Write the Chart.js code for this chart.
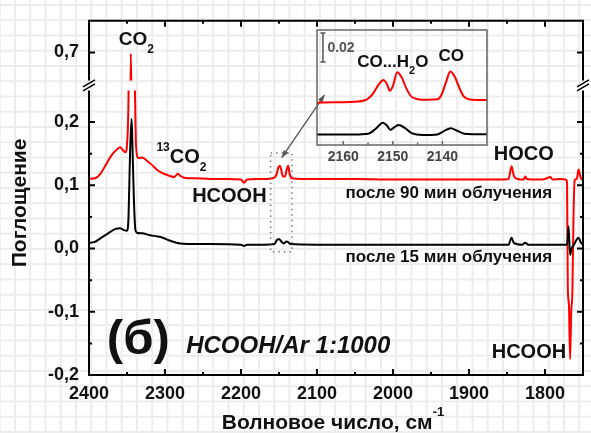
<!DOCTYPE html>
<html>
<head>
<meta charset="utf-8">
<script src="https://cdn.jsdelivr.net/npm/chart.js@4.4.0/dist/chart.umd.min.js"></script>
<style>
  html, body { margin: 0; padding: 0; }
  body {
    width: 591px; height: 433px; overflow: hidden; position: relative;
    background-color: #fff;
    background-image:
      linear-gradient(#ececec 2px, transparent 2px),
      linear-gradient(90deg, #ececec 2px, transparent 2px);
    background-size: 15.25px 15.25px;
    background-position: 14px 4px;
  }
  #main { position: absolute; left: 0; top: 0; }
  #inset { position: absolute; left: 310px; top: 25px; }
</style>
</head>
<body>
<canvas id="main" width="591" height="433"></canvas>
<canvas id="inset" width="185" height="145"></canvas>
<script>
// spectrum after 90 min irradiation (red)
const redWn = [2400, 2392, 2385, 2378, 2370, 2363, 2359, 2355, 2352, 2350, 2348, 2346, 2345, 2344, 2342, 2340, 2338, 2335, 2330, 2325,
  2318, 2311, 2303, 2294, 2288, 2283, 2280, 2275, 2260, 2240, 2220, 2200, 2196, 2192, 2180, 2165, 2156, 2153, 2151, 2149,
  2147, 2145, 2142, 2140, 2138, 2136, 2133, 2120, 2100, 2050, 2000, 1950, 1900, 1860, 1848, 1844, 1841, 1836, 1828, 1826,
  1824, 1810, 1800, 1793, 1790, 1780, 1773, 1771, 1770, 1768.5, 1767, 1765.5, 1764, 1762.5, 1761, 1758, 1756, 1753, 1750];
const redAbs = [0.110, 0.111, 0.118, 0.132, 0.148, 0.157, 0.160, 0.155, 0.152, 0.165, 0.24, 0.55, 0.698, 0.62, 0.40, 0.28, 0.16, 0.143, 0.144, 0.140,
  0.133, 0.125, 0.119, 0.115, 0.113, 0.118, 0.115, 0.112, 0.111, 0.110, 0.110, 0.109, 0.104, 0.109, 0.110, 0.110, 0.112, 0.118, 0.128, 0.131,
  0.124, 0.114, 0.114, 0.124, 0.131, 0.118, 0.111, 0.110, 0.110, 0.110, 0.109, 0.109, 0.109, 0.109, 0.110, 0.130, 0.115, 0.110, 0.109, 0.114,
  0.110, 0.109, 0.110, 0.113, 0.109, 0.110, 0.109, 0.105, -0.06, -0.09, -0.175, -0.10, -0.07, 0.05, 0.108, 0.110, 0.125, 0.112, 0.108];

// spectrum after 15 min irradiation (black)
const blackWn = [2400, 2393, 2385, 2375, 2365, 2359, 2354, 2350, 2348, 2346, 2344, 2343, 2341, 2339, 2337, 2330, 2320, 2310, 2303, 2295,
  2285, 2280, 2260, 2240, 2200, 2196, 2192, 2170, 2156, 2153, 2150, 2147, 2144, 2140, 2138, 2135, 2100, 2050, 2000, 1900,
  1848, 1844, 1841, 1830, 1826, 1822, 1800, 1780, 1771, 1769, 1767, 1765, 1762, 1756, 1753, 1750];
const blackAbs = [0.009, 0.010, 0.016, 0.024, 0.031, 0.032, 0.029, 0.028, 0.05, 0.15, 0.205, 0.17, 0.08, 0.03, 0.025, 0.024, 0.021, 0.019, 0.017, 0.013,
  0.009, 0.008, 0.007, 0.007, 0.006, 0.004, 0.006, 0.006, 0.007, 0.013, 0.015, 0.011, 0.008, 0.011, 0.010, 0.007, 0.006, 0.006, 0.006, 0.006,
  0.006, 0.017, 0.009, 0.006, 0.009, 0.006, 0.006, 0.006, 0.006, 0.035, -0.01, 0.000, 0.006, 0.017, 0.010, 0.006];

// inset: CO region, magnified
const insetRedWn = [2165.3, 2162, 2158, 2155.5, 2154, 2152.8, 2151.9, 2151.2, 2150.6, 2150, 2149.1, 2148.2, 2147.2, 2146.3, 2145,
  2143, 2141, 2140.2, 2139.3, 2138.4, 2137.5, 2136.6, 2135.7, 2134, 2131];
const insetRedAbs = [0.0292, 0.0294, 0.0298, 0.031, 0.0355, 0.042, 0.0448, 0.042, 0.0374, 0.0405, 0.0501, 0.0465, 0.0385, 0.0335, 0.0316,
  0.0312, 0.0315, 0.0345, 0.043, 0.0506, 0.047, 0.0395, 0.0335, 0.0312, 0.031];
const insetBlackWn = [2165.3, 2158, 2155, 2153.5, 2152, 2151.2, 2150.5, 2149.6, 2148.8, 2147.6, 2146.2, 2144, 2141, 2139.6, 2138.3, 2137, 2135.6, 2131];
const insetBlackAbs = [0.0072, 0.0073, 0.0078, 0.011, 0.0154, 0.0135, 0.0105, 0.0125, 0.0138, 0.0118, 0.0082, 0.0069, 0.0073, 0.0098, 0.0115, 0.0098, 0.0078, 0.0074];

// tick labels
const xTickValues = [2400, 2300, 2200, 2100, 2000, 1900, 1800];
const yTickValues = [0.7, 0.2, 0.1, 0.0, -0.1, -0.2];
const yTickLabels = ['0,7', '0,2', '0,1', '0,0', '-0,1', '-0,2'];
const insetTickValues = [2160, 2150, 2140];

Chart.defaults.font.family = '"Liberation Sans", Arial, sans-serif';

const pts = (xs, ys) => xs.map((x, i) => ({ x, y: ys[i] }));
const near = (a, b) => Math.abs(a - b) < 1e-6;
const onStep = (v, s) => near(Math.round(v / s) * s, v);

function yLabel(v) {
  const i = yTickValues.findIndex(t => near(t, v));
  return i < 0 ? '' : yTickLabels[i];
}

function line(data, color, axis) {
  return {
    data, yAxisID: axis, borderColor: color, borderWidth: 2,
    pointRadius: 0, fill: false, cubicInterpolationMode: 'monotone'
  };
}

// draws text made of parts: [text, 0 normal | 1 subscript | -1 superscript]
function chem(ctx, parts, x, y, size, style) {
  let cx = x;
  for (const [t, k] of parts) {
    const s = k ? Math.round(size * 0.62) : size;
    ctx.font = (style || 'bold') + ' ' + s + 'px "Liberation Sans", Arial, sans-serif';
    ctx.fillText(t, cx, y + (k === 1 ? size * 0.4 : k === -1 ? -size * 0.6 : 0));
    cx += ctx.measureText(t).width;
  }
  return cx - x;
}

function chemWidth(ctx, parts, size, style) {
  let w = 0;
  for (const [t, k] of parts) {
    const s = k ? Math.round(size * 0.62) : size;
    ctx.font = (style || 'bold') + ' ' + s + 'px "Liberation Sans", Arial, sans-serif';
    w += ctx.measureText(t).width;
  }
  return w;
}

// labels placed in data units (wavenumber, absorbance)
const notes = [
  { parts: [['CO', 0], ['2', 1]], wn: 2360.8, v: 0.7116, axis: 'yTop', size: 19 },
  { parts: [['13', -1], ['CO', 0], ['2', 1]], wn: 2311.3, v: 0.1345, axis: 'y', size: 20 },
  { parts: [['HCOOH', 0]], wn: 2264.3, v: 0.0731, axis: 'y', size: 20 },
  { parts: [['после 90 мин облучения', 0]], wn: 1790.5, v: 0.0792, axis: 'y', size: 17, align: 'right' },
  { parts: [['после 15 мин облучения', 0]], wn: 1790.5, v: -0.021, axis: 'y', size: 17, align: 'right' },
  { parts: [['HOCO', 0]], wn: 1867.5, v: 0.1406, axis: 'y', size: 20 },
  { parts: [['HCOOH', 0]], wn: 1870.1, v: -0.1739, axis: 'y', size: 20 },
  { parts: [['(б)', 0]], wn: 2376.5, v: -0.1662, axis: 'y', size: 49 },
  { parts: [['HCOOH/Ar 1:1000', 0]], wn: 2272.1, v: -0.1647, axis: 'y', size: 24, style: 'italic bold' }
];

const breakClip = {
  id: 'breakClip',
  beforeDatasetDraw(chart, args) {
    const a = chart.chartArea, ctx = chart.ctx;
    const low = chart.scales.y;
    let top, bottom;
    if (args.meta.yAxisID === 'yTop') { top = a.top - 5; bottom = low.top - 10; }
    else { top = low.top - 2.5; bottom = a.bottom + 5; }
    ctx.save();
    ctx.beginPath();
    ctx.rect(a.left - 2, top, a.width + 4, bottom - top);
    ctx.clip();
  },
  afterDatasetDraw(chart) { chart.ctx.restore(); }
};

const decor = {
  id: 'decor',
  afterDatasetsDraw(chart) {
    const ctx = chart.ctx, a = chart.chartArea;
    const xs = chart.scales.x, yl = chart.scales.y, yt = chart.scales.yTop;
    const brk = yl.top;
    ctx.save();
    ctx.strokeStyle = '#000';
    ctx.fillStyle = '#000';
    ctx.lineWidth = 2;
    ctx.lineCap = 'butt';
    // frame with the axis break
    ctx.beginPath();
    ctx.moveTo(a.left, brk - 10); ctx.lineTo(a.left, a.top); ctx.lineTo(a.right, a.top); ctx.lineTo(a.right, brk - 10);
    ctx.moveTo(a.left, brk); ctx.lineTo(a.left, a.bottom); ctx.lineTo(a.right, a.bottom); ctx.lineTo(a.right, brk);
    ctx.stroke();
    ctx.lineWidth = 1.5;
    ctx.beginPath();
    for (const x0 of [a.left, a.right]) {
      for (const dy of [-7, -3]) {
        ctx.moveTo(x0 - 6, brk + dy + 3.5);
        ctx.lineTo(x0 + 6, brk + dy - 3.5);
      }
    }
    ctx.stroke();
    // inward ticks
    ctx.lineWidth = 2;
    ctx.beginPath();
    for (const t of xs.ticks) {
      if (!onStep(t.value, 50)) continue;
      const len = onStep(t.value, 100) ? 6 : 3;
      const px = xs.getPixelForValue(t.value);
      ctx.moveTo(px, a.bottom); ctx.lineTo(px, a.bottom - len);
      ctx.moveTo(px, a.top); ctx.lineTo(px, a.top + len);
    }
    for (const sc of [yl, yt]) {
      for (const t of sc.ticks) {
        if (!onStep(t.value, 0.05)) continue;
        const py = sc.getPixelForValue(t.value);
        if (py < sc.top + 4 || py > sc.bottom + 1 || (sc === yt && py > brk - 12)) continue;
        const len = onStep(t.value, 0.1) ? 6 : 3;
        ctx.moveTo(a.left, py); ctx.lineTo(a.left + len, py);
        ctx.moveTo(a.right, py); ctx.lineTo(a.right - len, py);
      }
    }
    ctx.stroke();

    // dotted box around the CO region and the arrow to the inset
    const bx0 = xs.getPixelForValue(2161), bx1 = xs.getPixelForValue(2133);
    const by0 = yl.getPixelForValue(0.151), by1 = yl.getPixelForValue(-0.005);
    ctx.strokeStyle = '#777';
    ctx.lineWidth = 1.5;
    ctx.setLineDash([1.5, 4]);
    ctx.strokeRect(bx0, by0, bx1 - bx0, by1 - by0);
    ctx.setLineDash([]);
    const ax0 = xs.getPixelForValue(2146.4), ay0 = yl.getPixelForValue(0.1435);
    const ax1 = xs.getPixelForValue(2090), ay1 = yl.getPixelForValue(0.243);
    ctx.strokeStyle = '#555'; ctx.fillStyle = '#555'; ctx.lineWidth = 1.3;
    ctx.beginPath(); ctx.moveTo(ax0, ay0); ctx.lineTo(ax1, ay1); ctx.stroke();
    const ang = Math.atan2(ay1 - ay0, ax1 - ax0);
    for (const [hx, hy, dir] of [[ax0, ay0, ang + Math.PI], [ax1, ay1, ang]]) {
      ctx.beginPath();
      ctx.moveTo(hx, hy);
      ctx.lineTo(hx - 8 * Math.cos(dir - 0.35), hy - 8 * Math.sin(dir - 0.35));
      ctx.lineTo(hx - 8 * Math.cos(dir + 0.35), hy - 8 * Math.sin(dir + 0.35));
      ctx.closePath(); ctx.fill();
    }

    // annotations
    ctx.fillStyle = '#111';
    ctx.textBaseline = 'alphabetic';
    ctx.textAlign = 'left';
    for (const n of notes) {
      let px = xs.getPixelForValue(n.wn);
      const py = chart.scales[n.axis].getPixelForValue(n.v);
      if (n.align === 'right') px -= chemWidth(ctx, n.parts, n.size, n.style);
      chem(ctx, n.parts, px, py, n.size, n.style);
    }

    // axis titles
    ctx.font = 'bold 21px "Liberation Sans", Arial, sans-serif';
    ctx.save();
    ctx.translate(26, (a.top + a.bottom) / 2 + 5);
    ctx.rotate(-Math.PI / 2);
    ctx.textAlign = 'center';
    ctx.fillText('Поглощение', 0, 0);
    ctx.restore();
    const titleParts = [['Волновое число, см', 0], ['-1', -1]];
    const tw = chemWidth(ctx, titleParts, 21);
    chem(ctx, titleParts, 333 - tw / 2, 429, 21);
    ctx.restore();
  }
};

const tickFont = { size: 18, weight: 'bold' };

new Chart(document.getElementById('main'), {
  type: 'line',
  data: {
    datasets: [
      line(pts(blackWn, blackAbs), '#000000', 'y'),
      line(pts(redWn, redAbs), '#ff0000', 'y'),
      line(pts(redWn, redAbs), '#ff0000', 'yTop')
    ]
  },
  options: {
    responsive: false,
    animation: false,
    events: [],
    layout: { padding: { top: 10, right: 4, left: 0, bottom: 0 } },
    plugins: { legend: { display: false }, tooltip: { enabled: false } },
    scales: {
      x: {
        type: 'linear', reverse: true, min: 1750, max: 2400,
        grid: { display: false, drawTicks: false }, border: { display: false },
        ticks: {
          stepSize: 50, autoSkip: false, maxRotation: 0, padding: 8, color: '#111', font: tickFont,
          callback: v => xTickValues.some(t => near(t, v)) ? String(v) : ''
        },
        afterFit(s) { s.height = 58; }
      },
      y: {
        type: 'linear', position: 'left', stack: 'abs', stackWeight: 0.45, min: -0.2, max: 0.25,
        grid: { display: false, drawTicks: false }, border: { display: false },
        ticks: { stepSize: 0.05, autoSkip: false, padding: 10, color: '#111', font: tickFont, callback: yLabel },
        afterFit(s) { s.width = 89; }
      },
      yTop: {
        type: 'linear', position: 'left', stack: 'abs', stackWeight: 0.11, min: 0.64, max: 0.75,
        grid: { display: false, drawTicks: false }, border: { display: false },
        ticks: { stepSize: 0.05, autoSkip: false, padding: 10, color: '#111', font: tickFont, callback: yLabel },
        afterFit(s) { s.width = 89; }
      }
    }
  },
  plugins: [breakClip, decor]
});

// inset decorations: frame, ticks, scale bar, band labels
const insetDecor = {
  id: 'insetDecor',
  afterDatasetsDraw(chart) {
    const ctx = chart.ctx, a = chart.chartArea;
    const xs = chart.scales.x, ys = chart.scales.y;
    ctx.save();
    ctx.strokeStyle = '#666';
    ctx.lineWidth = 1.5;
    ctx.strokeRect(a.left, a.top, a.width, a.height);
    ctx.beginPath();
    for (const t of xs.ticks) {
      if (!onStep(t.value, 5)) continue;
      const px = xs.getPixelForValue(t.value);
      ctx.moveTo(px, a.bottom);
      ctx.lineTo(px, a.bottom - (onStep(t.value, 10) ? 4 : 2.5));
    }
    ctx.stroke();
    // 0.02 scale bar
    const bx = xs.getPixelForValue(2164.1);
    const b0 = ys.getPixelForValue(0.0572), b1 = ys.getPixelForValue(0.0772);
    ctx.strokeStyle = '#555';
    ctx.beginPath();
    ctx.moveTo(bx, b0); ctx.lineTo(bx, b1);
    ctx.moveTo(bx - 2.5, b0); ctx.lineTo(bx + 2.5, b0);
    ctx.moveTo(bx - 2.5, b1); ctx.lineTo(bx + 2.5, b1);
    ctx.stroke();
    ctx.fillStyle = '#555';
    chem(ctx, [['0.02', 0]], xs.getPixelForValue(2163.2), ys.getPixelForValue(0.0641), 14);
    ctx.fillStyle = '#111';
    chem(ctx, [['CO...H', 0], ['2', 1], ['O', 0]], xs.getPixelForValue(2157.2), ys.getPixelForValue(0.0538), 17);
    chem(ctx, [['CO', 0]], xs.getPixelForValue(2140.8), ys.getPixelForValue(0.0579), 17);
    ctx.restore();
  }
};

new Chart(document.getElementById('inset'), {
  type: 'line',
  data: {
    datasets: [
      line(pts(insetRedWn, insetRedAbs), '#ff0000', 'y'),
      line(pts(insetBlackWn, insetBlackAbs), '#000000', 'y')
    ]
  },
  options: {
    responsive: false,
    animation: false,
    events: [],
    layout: { padding: { left: 7, top: 5, right: 8, bottom: 0 } },
    plugins: { legend: { display: false }, tooltip: { enabled: false } },
    scales: {
      x: {
        type: 'linear', reverse: true, min: 2131, max: 2165.3,
        grid: { display: false, drawTicks: false }, border: { display: false },
        ticks: {
          stepSize: 5, autoSkip: false, maxRotation: 0, padding: 4, color: '#444', font: { size: 14, weight: 'bold' },
          callback: v => insetTickValues.some(t => near(t, v)) ? String(v) : ''
        },
        afterFit(s) { s.height = 25; }
      },
      y: { display: false, min: 0, max: 0.0793 }
    }
  },
  plugins: [insetDecor]
});
</script>
</body>
</html>
